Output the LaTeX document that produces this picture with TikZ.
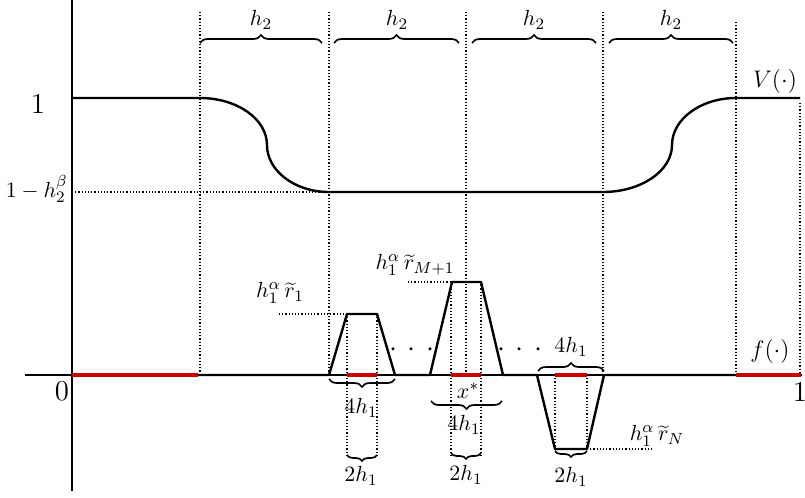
\documentclass[tikz,border=0pt,11pt]{standalone}
\usetikzlibrary{decorations.pathreplacing}
\definecolor{fred}{RGB}{204,0,0}
\begin{document}
\begin{tikzpicture}[x=0.5pt,y=-0.5pt,
  ax/.style={line width=0.75pt},
  curve/.style={line width=1.2pt,line join=round},
  redseg/.style={line width=2.2pt,fred},
  dot/.style={densely dotted,line width=0.6pt},
  brup/.style={decorate,decoration={brace,amplitude=4pt},line width=0.85pt},
  brsm/.style={decorate,decoration={brace,amplitude=3pt},line width=0.85pt},
  lbl/.style={inner sep=0pt}]
\useasboundingbox (0,0) rectangle (805,498);
% axes
\draw[ax] (72,0) -- (72,491);
\draw[ax] (25,375) -- (802,375);
% dotted verticals
\draw[dot] (200,12) -- (200,375);
\draw[dot] (329,12) -- (329,375);
\draw[dot] (466,12) -- (466,375);
\draw[dot] (603,12) -- (603,375);
\draw[dot] (736,22) -- (736,375);
\draw[dot] (800,103) -- (800,375);
\draw[dot] (72,192) -- (329,192);
% bump dotted lines
\draw[dot] (347,314) -- (347,455);
\draw[dot] (377,314) -- (377,455);
\draw[dot] (451,282) -- (451,455);
\draw[dot] (481,282) -- (481,455);
\draw[dot] (555,375) -- (555,449);
\draw[dot] (587,375) -- (587,449);
\draw[dot] (279,314) -- (347,314);
\draw[dot] (408,282) -- (452,282);
\draw[dot] (587,449) -- (652,449);
% V curve
\draw[curve] (72,98) -- (200,98)
  .. controls (237,98) and (267,119) .. (267,145)
  .. controls (267,171) and (295,192) .. (329,192)
  -- (603,192)
  .. controls (641,192) and (672,171) .. (672,145)
  .. controls (672,119) and (701,98) .. (736,98)
  -- (800,98);
% f curve
\draw[curve] (72,375) -- (329,375) -- (347,314) -- (377,314) -- (395,375)
  -- (430,375) -- (452,282) -- (481,282) -- (503,375)
  -- (537,375) -- (555,449) -- (587,449) -- (604,375) -- (800,375);
% red segments
\draw[redseg] (72,375) -- (198,375);
\draw[redseg] (347,375) -- (377,375);
\draw[redseg] (451,375) -- (481,375);
\draw[redseg] (555,375) -- (587,375);
\draw[redseg] (736,375) -- (801,375);
% top braces
\draw[brup] (200,43) -- (322,43);
\draw[brup] (334,43) -- (459,43);
\draw[brup] (472,43) -- (596,43);
\draw[brup] (609,43) -- (733,43);
\node[lbl] (ha) at (261,20) {$h_2$};
\node[lbl] (hb) at (397,20) {$h_2$};
\node[lbl] (hc) at (534,20) {$h_2$};
\node[lbl] (hd) at (671,20) {$h_2$};
% bump braces
\draw[brup] (395,379) -- (329,379);
\draw[brsm] (377,455) -- (347,455);
\draw[brup] (502,401) -- (431,401);
\draw[brsm] (481,453) -- (451,453);
\draw[brup] (538,371) -- (604,371);
\draw[brsm] (587,451) -- (555,451);
% labels
\node[lbl] (one) at (38,104) {\fontsize{14.5}{16}\selectfont $1$};
\node[lbl,anchor=base east] (low) at (68,197) {$1-h_2^{\beta}$};
\node[lbl] (zero) at (62,391) {\fontsize{15.5}{17}\selectfont $0$};
\node[lbl] (oner) at (800,392) {\fontsize{15.5}{17}\selectfont $1$};
\node[lbl] (vlab) at (775,81) {\fontsize{13}{15}\selectfont $V(\cdot)$};
\node[lbl] (flab) at (770,351) {\fontsize{13}{15}\selectfont $f(\cdot)$};
\node[lbl] (r1) at (280,293) {$h_1^{\alpha}\,\widetilde{r}_1$};
\node[lbl] (rm) at (415,265) {$h_1^{\alpha}\,\widetilde{r}_{M+1}$};
\node[lbl] (rn) at (657,436) {$h_1^{\alpha}\,\widetilde{r}_N$};
\node[lbl] (da) at (412,350) {\fontsize{14}{16}\selectfont $\cdotp\mkern3.3mu\cdotp\mkern3.3mu\cdotp$};
\node[lbl] (db) at (520,350) {\fontsize{14}{16}\selectfont $\cdotp\mkern3.3mu\cdotp\mkern3.3mu\cdotp$};
\node[lbl] (xs) at (468,391) {$x^*$};
\node[lbl] (fa) at (361,408) {$4h_1$};
\node[lbl] (fb) at (464,425) {$4h_1$};
\node[lbl] (fc) at (571,347) {$4h_1$};
\node[lbl] (ta) at (361,476) {$2h_1$};
\node[lbl] (tb) at (466,475) {$2h_1$};
\node[lbl] (tc) at (571,477) {$2h_1$};
\end{tikzpicture}
\end{document}
